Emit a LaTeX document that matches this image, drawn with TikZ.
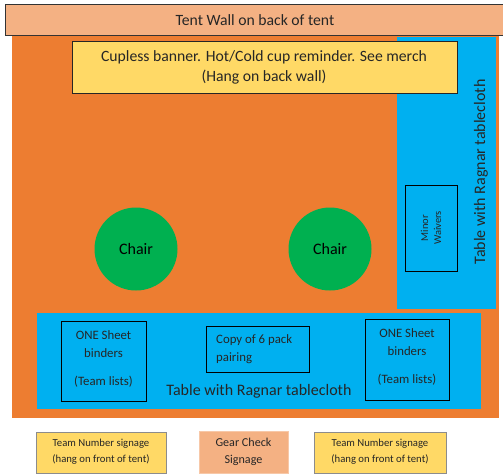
\documentclass[tikz,border=0pt]{standalone}
\usepackage{fontspec}
\setmainfont{Carlito}
\definecolor{tentorange}{HTML}{ED7D31}
\definecolor{wallpeach}{HTML}{F4B183}
\definecolor{tblue}{HTML}{00B0F0}
\definecolor{banneryellow}{HTML}{FFD966}
\definecolor{chairgreen}{HTML}{00B050}
\definecolor{signborder}{HTML}{8C8C8C}
\begin{document}
\begin{tikzpicture}[x=1pt,y=-1pt,
  blackbox/.style={draw=black,line width=0.9pt,inner sep=0pt},
  txt/.style={inner sep=0pt,align=center,text=black!85},
  sign/.style={fill=banneryellow,draw=signborder,line width=1pt},
]
\useasboundingbox (0,0) rectangle (503,474);
% tent floor
\fill[tentorange] (12,35) rectangle (499,418);
% wall
\draw[fill=wallpeach,draw=black!80,line width=0.9pt] (5,4) rectangle (503,35);
\node[txt,font=\fontsize{15.7}{18}\selectfont] (wall) at (255,20) {Tent Wall on back of tent};
% right table
\fill[tblue] (397,37) rectangle (496,309);
\node[txt,rotate=90,font=\fontsize{16}{18}\selectfont] (rtable) at (481,172) {Table with Ragnar tablecloth};
\draw[blackbox] (405,185) rectangle (457,271);
\node[txt,rotate=90,font=\fontsize{10.5}{13}\selectfont] (minor) at (431,228) {Minor\\Waivers};
% banner
\draw[fill=banneryellow,draw=black!85,line width=0.9pt] (72,41) rectangle (457,93);
\node[txt,font=\fontsize{15.7}{20}\selectfont] (banner) at (264,67) {Cupless banner. Hot/Cold cup reminder. See merch\\(Hang on back wall)};
% chairs
\node[circle,fill=chairgreen,minimum size=83pt,inner sep=0pt,font=\fontsize{16}{18}\selectfont] (chair1) at (136,249) {Chair};
\node[circle,fill=chairgreen,minimum size=83pt,inner sep=0pt,font=\fontsize{16}{18}\selectfont] (chair2) at (330,249) {Chair};
% bottom table
\fill[tblue] (37,313) rectangle (481,409);
\node[txt,font=\fontsize{16}{18}\selectfont] (btable) at (259,391) {Table with Ragnar tablecloth};
\draw[blackbox] (61,321) rectangle (146,401);
\node[txt,font=\fontsize{12.8}{18}\selectfont] (one1) at (103.5,344) {ONE Sheet\\binders};
\node[txt,font=\fontsize{12.8}{15}\selectfont] (team1) at (103.5,382) {(Team lists)};
\draw[blackbox] (206,326) rectangle (309,372);
\node[txt,align=left,anchor=west,font=\fontsize{12.8}{18}\selectfont] (copy) at (216,349) {Copy of 6 pack\\pairing};
\draw[blackbox] (365,319) rectangle (449,400);
\node[txt,font=\fontsize{12.8}{18}\selectfont] (one2) at (407,342) {ONE Sheet\\binders};
\node[txt,font=\fontsize{12.8}{15}\selectfont] (team2) at (407,380) {(Team lists)};
% signs
\draw[sign] (36,432) rectangle (166,473);
\node[txt,font=\fontsize{10.7}{16}\selectfont] (sign1) at (101,452) {Team Number signage\\(hang on front of tent)};
\draw[fill=wallpeach,draw=wallpeach!70!white,line width=1pt] (199,431) rectangle (288,473);
\node[txt,font=\fontsize{12.1}{17}\selectfont] (gear) at (243.5,452) {Gear Check\\Signage};
\draw[sign] (314,432) rectangle (446,473);
\node[txt,font=\fontsize{10.7}{16}\selectfont] (sign2) at (380,452) {Team Number signage\\(hang on front of tent)};
\end{tikzpicture}
\end{document}
